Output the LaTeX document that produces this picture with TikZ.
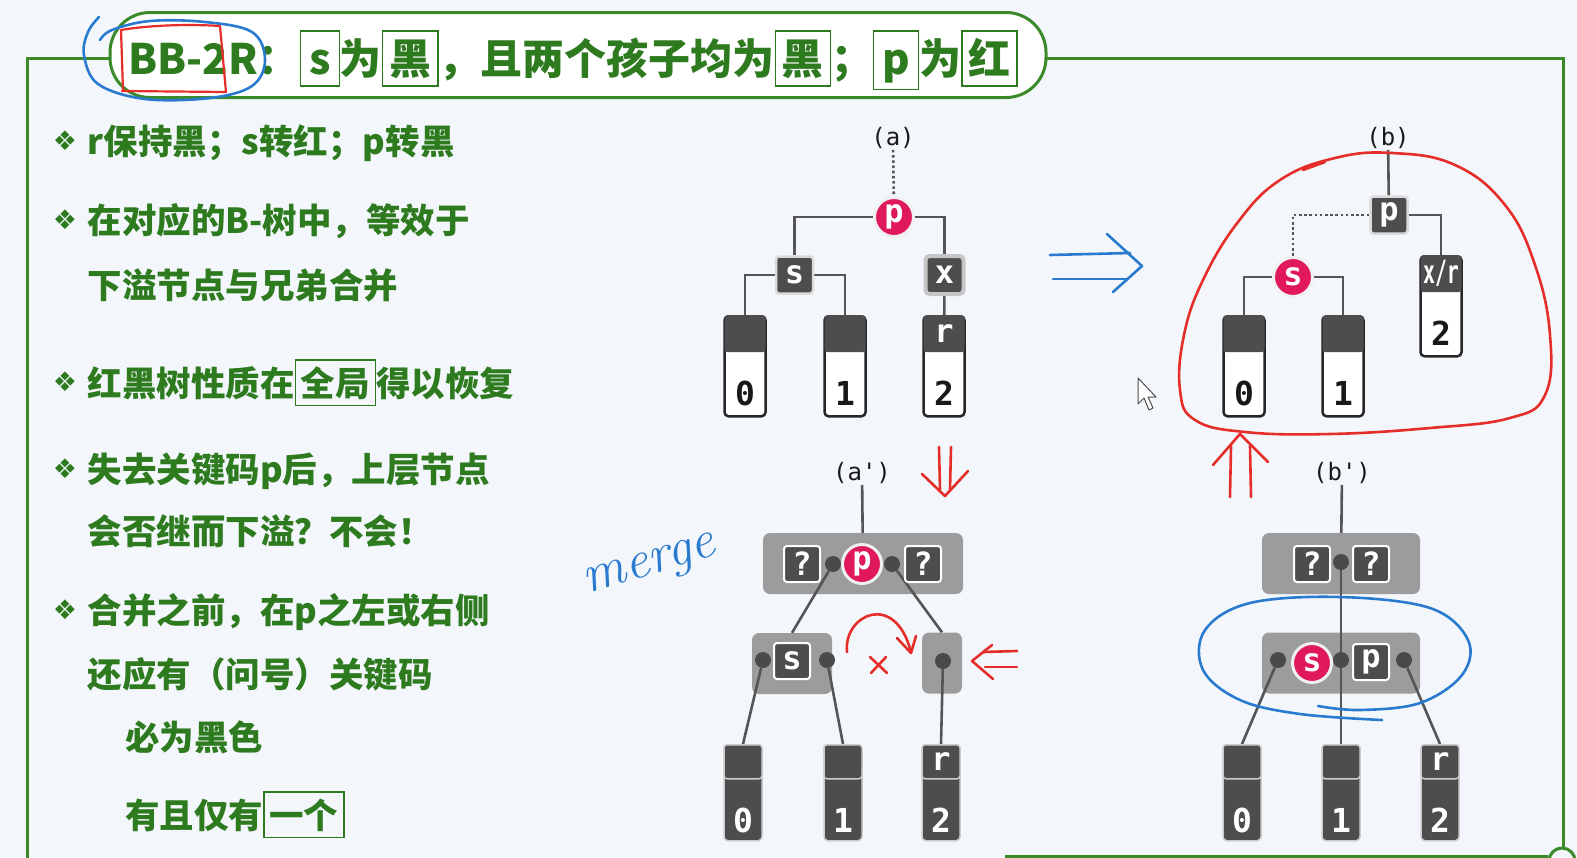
\documentclass[tikz,border=0pt]{standalone}
\usepackage{fontspec}
\usepackage{graphicx}
\newfontfamily\cjk{Noto Sans CJK SC}
\newfontfamily\mono{DejaVu Sans Mono}
\newfontfamily\dejavu{DejaVu Sans}
\usetikzlibrary{calc}
\definecolor{bgc}{HTML}{F3F7FB}
\definecolor{tgreen}{HTML}{2E7A1E}
\definecolor{fgreen}{HTML}{3A8A2A}
\definecolor{keyd}{HTML}{4D4D4D}
\definecolor{redc}{HTML}{E0185C}
\definecolor{bng}{HTML}{9C9C9C}
\definecolor{edgec}{HTML}{555555}
\definecolor{dotc}{HTML}{4A4A4A}
\definecolor{hblue}{HTML}{2A7BD0}
\definecolor{hred}{HTML}{E52E2A}
\pgfdeclarelayer{back}\pgfdeclarelayer{edgel}\pgfsetlayers{back,edgel,main}
\newcommand\gbx[2][white]{{\setlength\fboxsep{0.14em}\setlength\fboxrule{1.4pt}\fcolorbox{tgreen}{#1}{\rule[-0.12em]{0pt}{1em}#2}}}
\newcommand\kf{\mono\bfseries\fontsize{32}{32}\selectfont}
\newcommand\leafa[5]{%
  \node[leafw, anchor=north] (#1) at (#2,#3) {};
  \node[topa, anchor=north] (#1t) at (#2,#3) {#4};
  \node[digw] (#1d) at (#2,#3+78) {#5};}
\newcommand\leafb[5]{%
  \node[leafd, anchor=north] (#1) at (#2,#3) {};
  \node[topb, anchor=north] (#1t) at (#2,#3) {#4};
  \node[digb] (#1d) at (#2,#3+76) {#5};}
\begin{document}
\begin{tikzpicture}[x=1pt,y=-1pt,
  frame/.style={draw=fgreen, line width=3},
  keya/.style={fill=keyd, draw=white!72!gray, line width=2.5, rounded corners=3, minimum size=37, inner sep=0, text=white, font=\kf},
  keyx/.style={fill=keyd, draw=white!55!gray, line width=4, rounded corners=4, minimum size=38, inner sep=0, text=white, font=\kf},
  keyw/.style={fill=keyd, draw=white, line width=2, rounded corners=3, minimum size=36, inner sep=0, text=white, font=\kf},
  redk/.style={circle, fill=redc, draw=white!88!gray, line width=3, minimum size=39, inner sep=0, text=white, font=\kf},
  dot/.style={circle, fill=dotc, minimum size=16, inner sep=0},
  bnode/.style={fill=bng, rounded corners=7, inner sep=0, minimum height=61},
  edge/.style={draw=edgec, line width=2.6},
  lab/.style={font=\mono\fontsize{24}{24}\selectfont, inner sep=1, text=black!90},
  leafw/.style={draw=black!85, line width=2.5, fill=white, rounded corners=4, minimum width=41, minimum height=100, inner sep=0},
  topa/.style={fill=keyd, rounded corners=3, minimum width=41, minimum height=37, inner sep=0, text=white, font=\kf},
  digw/.style={font=\mono\bfseries\fontsize{33}{33}\selectfont, text=black!90, inner sep=0},
  leafd/.style={draw=white!60!gray, line width=1.5, fill=keyd, rounded corners=4, minimum width=38, minimum height=96, inner sep=0},
  topb/.style={fill=keyd, draw=white!60!gray, line width=1.5, rounded corners=3, minimum width=38, minimum height=34, inner sep=0, text=white, font=\kf},
  digb/.style={font=\mono\bfseries\fontsize{33}{33}\selectfont, text=white, inner sep=0},
  txt/.style={anchor=base west, inner sep=0, text=tgreen, font=\cjk\bfseries\fontsize{34.5}{40}\selectfont},
  bul/.style={inner sep=0, text=tgreen, font=\dejavu\fontsize{27}{27}\selectfont},
  hw/.style={line width=2.6, line cap=round, line join=round}]
\useasboundingbox (0,0) rectangle (1577,857);
\begin{pgfonlayer}{back}
\fill[bgc] (0,0) rectangle (1577,857);
\draw[frame] (27,860) -- (27,58) -- (112,58);
\draw[frame] (1044,58) -- (1563,58) -- (1563,847);
\draw[frame] (1005,856) -- (1548,856);
\draw[frame] (1562,861) circle (13);
\end{pgfonlayer}

% title
\node[draw=fgreen, line width=3, fill=white, rounded corners=40, minimum width=936, minimum height=85, inner sep=0] (tbox) at (578,55) {};
\node[anchor=base west, inner sep=0, text=tgreen, font=\cjk\bfseries\fontsize{42}{48}\selectfont] (title) at (128,74.5)
  {BB-2R：\gbx{\kern2pt s\kern2pt}为\gbx{黑}，且两个孩子均为\gbx{黑}；\gbx{\kern2pt p\kern2pt}为\gbx{红}};

% left text
\node[bul] (b1) at (65,141) {❖};
\node[txt] (t1) at (87.5,154) {r保持黑；s转红；p转黑};
\node[bul] (b2) at (65,220) {❖};
\node[txt] (t2) at (87.5,233) {在对应的B-树中，等效于};
\node[txt] (t3) at (87.5,298) {下溢节点与兄弟合并};
\node[bul] (b3) at (65,382) {❖};
\node[txt] (t4) at (87.5,396) {红黑树性质在\gbx[bgc]{全局}得以恢复};
\node[bul] (b4) at (65,469) {❖};
\node[txt] (t5) at (87.5,482) {失去关键码p后，上层节点};
\node[txt] (t6) at (87.5,544) {会否继而下溢？不会！};
\node[bul] (b5) at (65,610) {❖};
\node[txt] (t7) at (87.5,623) {合并之前，在p之左或右侧};
\node[txt] (t8) at (87.5,687) {还应有（问号）关键码};
\node[txt] (t9) at (125,750) {必为黑色};
\node[txt] (t10) at (125,828) {有且仅有\gbx[bgc]{一个}};

% tree (a)
\node[lab] (alab) at (893,138) {(a)};
\node[redk] (aP) at (894,217) {p};
\node[keya] (aS) at (794.5,275) {s};
\node[keyx] (aX) at (944.5,275) {x};
\leafa{a0}{745}{315}{}{0}
\leafa{a1}{845}{315}{}{1}
\leafa{a2}{944}{315}{r}{2}
\begin{pgfonlayer}{edgel}
\draw[edge, dash pattern=on 2.6pt off 2.6pt] (alab) -- (aP);
\draw[edge] (aP.west) -| (aS.north);
\draw[edge] (aP.east) -| (aX.north);
\draw[edge] (aS.west) -| (a0.north);
\draw[edge] (aS.east) -| (a1.north);
\draw[edge] (aX) -- (a2);
\end{pgfonlayer}

% tree (b)
\node[lab] (blab) at (1388,138) {(b)};
\node[keya] (bP) at (1389,215) {p};
\node[redk] (bS) at (1293,277) {s};
\leafa{bxr}{1441}{255}{\scalebox{0.62}[1]{x/r}}{2}
\leafa{b0}{1244}{315}{}{0}
\leafa{b1}{1343}{315}{}{1}
\begin{pgfonlayer}{edgel}
\draw[edge] (blab) -- (bP);
\draw[edge, dash pattern=on 2.6pt off 2.6pt] (bP.west) -| (bS.north);
\draw[edge] (bP.east) -| (bxr.north);
\draw[edge] (bS.west) -| (b0.north);
\draw[edge] (bS.east) -| (b1.north);
\end{pgfonlayer}

% tree (a')
\node[lab] (aplab) at (862,473) {(a')};
\begin{pgfonlayer}{back}
\node[bnode, minimum width=200] (apTop) at (863,563.5) {};
\node[bnode, minimum width=80] (apS) at (792,663.5) {};
\node[bnode, minimum width=40] (apE) at (942,663) {};
\end{pgfonlayer}
\node[keyw] (apq1) at (802,564) {?};
\node[dot] (apd1) at (833,564) {};
\node[redk] (apP) at (862,564) {p};
\node[dot] (apd2) at (892,564) {};
\node[keyw] (apq2) at (923,564) {?};
\node[dot] (apd3) at (763,660) {};
\node[keyw] (apSk) at (792,661) {s};
\node[dot] (apd4) at (827,660) {};
\node[dot] (apd5) at (943,661) {};
\leafb{ap0}{743}{744}{}{0}
\leafb{ap1}{843}{744}{}{1}
\leafb{ap2}{941}{744}{r}{2}
\begin{pgfonlayer}{edgel}
\draw[edge] (aplab) -- (apTop);
\draw[edge] (apd1) -- (apS.north);
\draw[edge] (apd2) -- (apE.north);
\draw[edge] (apd3) -- (ap0.north);
\draw[edge] (apd4) -- (ap1.north);
\draw[edge] (apd5) -- (ap2.north);
\end{pgfonlayer}

% tree (b')
\node[lab] (bplab) at (1342,473) {(b')};
\begin{pgfonlayer}{back}
\node[bnode, minimum width=158] (bpTop) at (1341,563.5) {};
\node[bnode, minimum width=158] (bpLow) at (1341,663) {};
\end{pgfonlayer}
\node[keyw] (bpq1) at (1312,564) {?};
\node[dot] (bpd1) at (1341,562) {};
\node[keyw] (bpq2) at (1371,564) {?};
\node[dot] (bpd2) at (1278,660) {};
\node[redk] (bpS) at (1312,663) {s};
\node[dot] (bpd3) at (1341,660) {};
\node[keyw] (bpP) at (1371,662) {p};
\node[dot] (bpd4) at (1404,660) {};
\leafb{bp0}{1242}{744}{}{0}
\leafb{bp1}{1341}{744}{}{1}
\leafb{bp2}{1440}{744}{r}{2}
\begin{pgfonlayer}{edgel}
\draw[edge] (bplab) -- (bpTop);
\draw[edge] (bpd1) -- (bpd3);
\draw[edge] (bpd2) -- (bp0.north);
\draw[edge] (bpd3) -- (bp1.north);
\draw[edge] (bpd4) -- (bp2.north);
\end{pgfonlayer}

% handwriting
\draw[hw, hblue] plot[smooth, tension=0.6] coordinates {(99,17) (88,32) (84,55) (98,84) (145,99) (210,98) (252,86) (265,60) (252,32) (205,22) (150,21) (112,30) (100,40)};
\draw[hw, hred, line width=2.2] (123,90) -- (121,30) .. controls (150,25) and (190,24) .. (220,26) -- (226,92) -- (122,91);
\draw[hw, hblue] (1050,255) -- (1130,253);
\draw[hw, hblue] (1053,279) -- (1127,279);
\draw[hw, hblue] (1107,234) -- (1142,266) -- (1113,292);
\draw[hw, hred] plot[smooth cycle, tension=0.7] coordinates {(1392,153) (1455,165) (1505,205) (1535,265) (1550,335) (1545,395) (1510,418) (1430,428) (1330,434) (1245,432) (1195,420) (1180,390) (1184,335) (1203,280) (1238,222) (1280,180) (1335,158)};
\draw[hw, hred] (1303,170) -- (1325,162);
\draw[hw, hred] (939,447) -- (940,490);
\draw[hw, hred] (951,447) -- (950,490);
\draw[hw, hred] (922,474) -- (945,496) -- (968,471);
\draw[hw, hred] (1231,446) -- (1230,497);
\draw[hw, hred] (1250,446) -- (1251,497);
\draw[hw, hred] (1213,465) -- (1240,434) -- (1268,462);
\draw[hw, hred] (983,652) -- (1017,651);
\draw[hw, hred] (985,667) -- (1017,667);
\draw[hw, hred] (992,645) -- (972,661) -- (993,679);
\draw[hw, hred] (847,652) .. controls (843,615) and (895,590) .. (911,652);
\draw[hw, hred] (897,638) -- (911,653) -- (916,636);
\draw[hw, hred] (870,657) -- (887,673);
\draw[hw, hred] (886,657) -- (871,673);
\node[rotate=17, text=hblue, font=\itshape\fontsize{54}{54}\selectfont, inner sep=0] (merge) at (651,568) {merge};
\draw[hw, hblue] plot[smooth, tension=0.6] coordinates {(1318,706) (1360,710) (1420,703) (1462,675) (1468,640) (1430,608) (1340,597) (1250,603) (1205,630) (1203,670) (1240,700) (1300,714) (1382,720)};
\draw[fill=white, draw=black!70, line width=1, line join=round] (1138,378) -- (1138,404) -- (1144,398) -- (1149,410) -- (1153,408) -- (1148,397) -- (1156,397) -- cycle;
\end{tikzpicture}
\end{document}
